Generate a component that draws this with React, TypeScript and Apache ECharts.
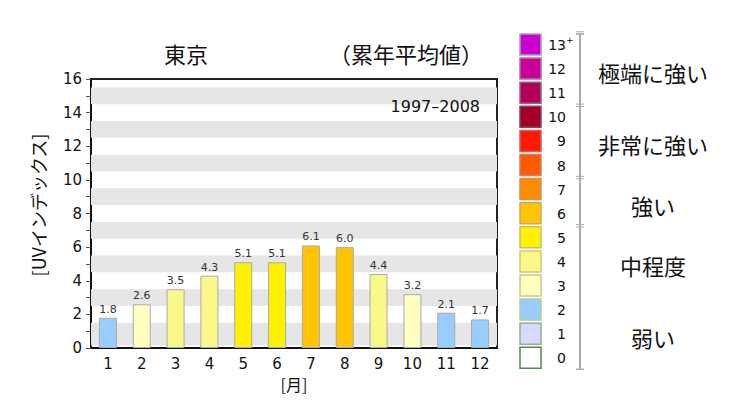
import React, { useEffect, useRef } from "react";
import * as echarts from "echarts";

const months = ["1", "2", "3", "4", "5", "6", "7", "8", "9", "10", "11", "12"];
const uvValues = [1.8, 2.6, 3.5, 4.3, 5.1, 5.1, 6.1, 6.0, 4.4, 3.2, 2.1, 1.7];
const grayBands: [number, number][] = [
  [0.15, 1.5], [2.5, 3.5], [4.5, 5.5], [6.5, 7.5], [8.5, 9.5], [10.5, 11.5], [12.5, 13.5], [14.5, 15.5],
];
const levelLabels = ["0", "1", "2", "3", "4", "5", "6", "7", "8", "9", "10", "11", "12", "13"];
const levelColors = [
  "#ffffff", "#d9d9ff", "#99ccff", "#ffffc0", "#f9f98a", "#fff200", "#ffc500",
  "#ff8c00", "#ff5a00", "#ff1a00", "#a0002a", "#b0005a", "#cc0099", "#cc00cc",
];
const levelBorders = [
  "#4a8a4a", "#90b090", "#b0d090", "#c8c890", "#d4c870", "#c8c070", "#d0a860",
  "#d09060", "#d08060", "#d06060", "#904060", "#a06080", "#b070a0", "#a0a0d0",
];
const categories: { name: string; from: number; to: number }[] = [
  { name: "弱い", from: 0, to: 2 },
  { name: "中程度", from: 3, to: 5 },
  { name: "強い", from: 6, to: 7 },
  { name: "非常に強い", from: 8, to: 10 },
  { name: "極端に強い", from: 11, to: 13 },
];
const titleLeft = "東京";
const titleRight = "（累年平均値）";
const periodLabel = "1997–2008";
const yName = "[UVインデックス]";
const xName = "[月]";

const NUM_FONT = "'DejaVu Sans', 'Noto Sans CJK JP', sans-serif";
const JP_FONT = "'Noto Sans CJK JP', sans-serif";
const INK = "#111";

export default function App() {
  const ref = useRef<HTMLDivElement>(null);
  useEffect(() => {
    if (!ref.current) return;
    const chart = echarts.init(ref.current, null, { renderer: "svg" });

    const boxTop0 = 34;
    const slot = 24.1;
    const boxH = 22;
    const slotTop = (lvl: number) => boxTop0 + (13 - lvl) * slot;

    const graphics: any[] = [];
    levelLabels.forEach((lab, lvl) => {
      const top = slotTop(lvl);
      graphics.push({
        type: "rect",
        shape: { x: 520, y: top, width: 21, height: boxH - 1 },
        style: { fill: levelColors[lvl], stroke: levelBorders[lvl], lineWidth: 1.5 },
      });
      graphics.push({
        type: "text",
        x: 566,
        y: top + boxH / 2,
        style: {
          text: lab,
          align: "right",
          verticalAlign: "middle",
          font: `14px ${NUM_FONT}`,
          fill: INK,
        },
      });
      if (lvl === 13) {
        graphics.push({
          type: "text",
          x: 566,
          y: top + 6,
          style: { text: "+", align: "left", verticalAlign: "middle", font: `9px ${NUM_FONT}`, fill: INK },
        });
      }
    });
    const lineTop = slotTop(13);
    const lineBot = slotTop(0) + boxH;
    graphics.push({
      type: "line",
      shape: { x1: 580, y1: lineTop, x2: 580, y2: lineBot },
      style: { stroke: "#aaa", lineWidth: 2 },
    });
    graphics.push({ type: "line", shape: { x1: 576, y1: lineTop, x2: 584, y2: lineTop }, style: { stroke: "#aaa", lineWidth: 1.5 } });
    graphics.push({ type: "line", shape: { x1: 576, y1: lineBot, x2: 584, y2: lineBot }, style: { stroke: "#aaa", lineWidth: 1.5 } });
    categories.forEach((c, i) => {
      const top = slotTop(c.to);
      const bot = slotTop(c.from) + boxH;
      if (i > 0) {
        const by = top - 1;
        graphics.push({ type: "line", shape: { x1: 576, y1: by - 1.2, x2: 584, y2: by - 1.2 }, style: { stroke: "#aaa", lineWidth: 1 } });
        graphics.push({ type: "line", shape: { x1: 576, y1: by + 1.2, x2: 584, y2: by + 1.2 }, style: { stroke: "#aaa", lineWidth: 1 } });
      }
      graphics.push({
        type: "text",
        x: 653,
        y: (top + bot) / 2 + 3,
        style: { text: c.name, align: "center", verticalAlign: "middle", font: `22px ${JP_FONT}`, fill: INK },
      });
    });
    graphics.push({
      type: "text", x: 186, y: 53, z: 100,
      style: { text: titleLeft, align: "center", verticalAlign: "middle", font: `22px ${JP_FONT}`, fill: INK },
    });
    graphics.push({
      type: "text", x: 406, y: 53, z: 100,
      style: { text: titleRight, align: "center", verticalAlign: "middle", font: `22px ${JP_FONT}`, fill: INK },
    });
    graphics.push({
      type: "text", x: 480, y: 106, z: 100,
      style: { text: periodLabel, align: "right", verticalAlign: "middle", font: `16px ${NUM_FONT}`, fill: INK },
    });
    graphics.push({
      type: "text", x: 38, y: 205, rotation: Math.PI / 2, z: 100,
      style: { text: yName, align: "center", verticalAlign: "middle", font: `18px ${JP_FONT}`, fill: INK },
    });

    chart.setOption({
      animation: false,
      backgroundColor: "#fff",
      grid: {
        left: 91, top: 79, width: 406, height: 269,
        show: true, borderColor: "#222", borderWidth: 2, backgroundColor: "#fff",
      },
      xAxis: {
        type: "category",
        data: months,
        name: xName,
        nameLocation: "middle",
        nameGap: 28,
        nameTextStyle: { fontSize: 16, fontFamily: JP_FONT, color: INK },
        axisLine: { lineStyle: { color: "#111", width: 2 } },
        axisTick: { alignWithLabel: true, length: 4, lineStyle: { color: "#777" } },
        axisLabel: { fontSize: 15, fontFamily: NUM_FONT, color: INK, margin: 8 },
      },
      yAxis: {
        type: "value",
        min: 0, max: 16, interval: 2,
        axisLine: { show: true, lineStyle: { color: "#111", width: 2 } },
        axisTick: { show: true, length: 5, lineStyle: { color: "#555" } },
        minorTick: { show: true, splitNumber: 2, length: 5, lineStyle: { color: "#555" } },
        splitLine: { show: false },
        axisLabel: { fontSize: 15, fontFamily: NUM_FONT, color: INK, margin: 9 },
      },
      series: [
        {
          type: "bar",
          data: uvValues.map((v) => ({
            value: v,
            itemStyle: { color: levelColors[Math.round(v)] },
          })),
          barWidth: 18,
          itemStyle: { borderColor: "#aaa", borderWidth: 1 },
          label: {
            show: true, position: "top", distance: 3,
            formatter: (p: any) => p.value.toFixed(1),
            fontSize: 11, fontFamily: NUM_FONT, color: "#333",
          },
          markArea: {
            silent: true,
            itemStyle: { color: "#e6e6e6" },
            data: grayBands.map(([a, b]) => [{ yAxis: a }, { yAxis: b }]),
          },
        },
      ],
      graphic: graphics,
    });
    return () => chart.dispose();
  }, []);
  return <div ref={ref} style={{ width: 745, height: 415, position: "absolute", left: 0, top: 0 }} />;
}
